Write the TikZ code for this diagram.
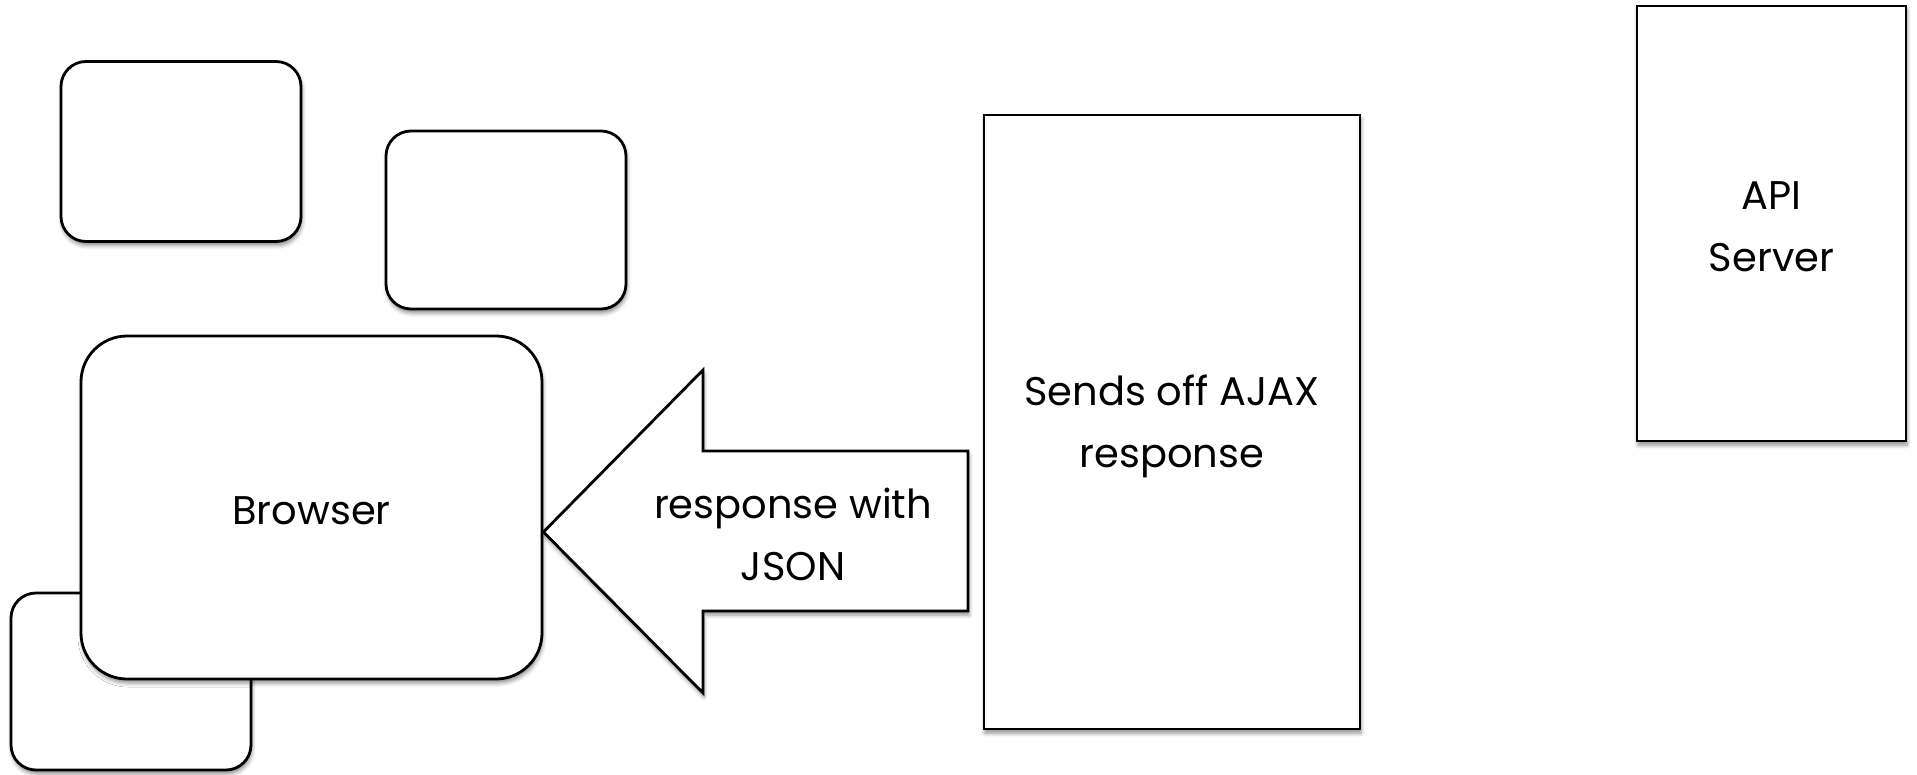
\documentclass[tikz,border=0pt]{standalone}
\usepackage{fontspec}
\setmainfont{Poppins}
\usetikzlibrary{shadows.blur}

\tikzset{
  panel/.style={draw=black, line width=2.8pt, fill=white,
    blur shadow={shadow xshift=1pt, shadow yshift=-4pt,
                 shadow blur radius=4pt, shadow opacity=45}},
  card/.style={panel, rounded corners=25pt, inner sep=0pt},
  plainbox/.style={panel, inner sep=0pt},
  caption/.style={font=\fontsize{40}{62}\selectfont, align=center},
}

\begin{document}
\begin{tikzpicture}[x=1pt, y=-1pt]
  \useasboundingbox (0,0) rectangle (1917,774);

  % stacked window cards on the left
  \node[card, minimum width=240pt, minimum height=180pt] (card1) at (181,151.5) {};
  \node[card, minimum width=240pt, minimum height=178pt] (card2) at (506,220) {};
  \node[card, minimum width=240pt, minimum height=177pt] (card3) at (131,681.5) {};

  % the browser window in front
  \node[card, rounded corners=46pt, minimum width=461pt, minimum height=343pt] (browser) at (311.5,507.5) {};
  \node[caption] (browserlabel) at ([yshift=-3pt]browser.center) {Browser};

  % server side boxes
  \node[plainbox, minimum width=376pt, minimum height=614pt] (sends) at (1172,422) {};
  \node[caption] (sendslabel) at ([yshift=-4pt]sends.center) {Sends off AJAX\\response};

  \node[plainbox, minimum width=269pt, minimum height=435pt] (api) at (1771.5,223.5) {};
  \node[caption] (apilabel) at ([yshift=-3pt]api.center) {API\\Server};

  % block arrow carrying the response back to the browser
  \coordinate (tip) at (browser.east |- 0,532);
  \draw[panel, line join=miter]
    (tip) -- (703,370) -- (703,451) -- (968,451) -- (968,611)
    -- (703,611) -- (703,693) -- cycle;
  \node[caption] (resp) at (793,534) {response with\\JSON};
\end{tikzpicture}
\end{document}
